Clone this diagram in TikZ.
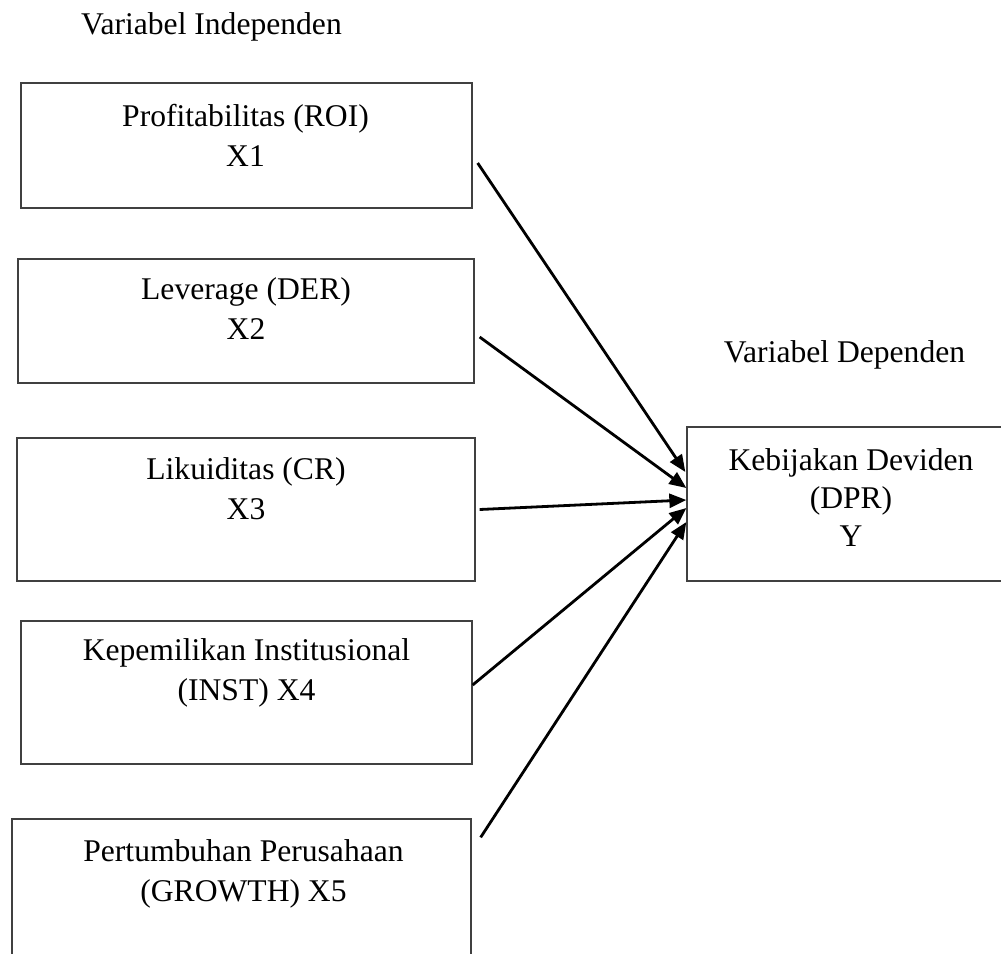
\documentclass[tikz,border=0pt]{standalone}
\usepackage{fontspec}
\setmainfont{Liberation Serif}
\usetikzlibrary{arrows.meta}
\tikzset{
  varbox/.style={draw=black!75, line width=0.65pt, inner sep=0pt},
  vartext/.style={align=center, font=\fontsize{15.8}{20}\selectfont},
  arr/.style={line width=1.4pt, -{Triangle[length=8.5pt,width=7pt]}}
}
\begin{document}
\begin{tikzpicture}[x=0.5pt,y=-0.5pt]
    \useasboundingbox (0,0) rectangle (1001,953);
    % headings
    \node[vartext] (indep) at (211.5,27) {Variabel Independen};
    \node[vartext] (dep) at (844.5,355) {Variabel Dependen};
    % independent variables
    \node[varbox, minimum width=225.5pt, minimum height=62.5pt] (x1) at (246.5,145.5) {};
    \node[varbox, minimum width=228pt, minimum height=62pt] (x2) at (246,321) {};
    \node[varbox, minimum width=229pt, minimum height=71.5pt] (x3) at (246,509.5) {};
    \node[varbox, minimum width=225.5pt, minimum height=71.5pt] (x4) at (246.5,692.5) {};
    \node[varbox, minimum width=229.5pt, minimum height=75.5pt] (x5) at (241.5,894.5) {};
    \node[vartext] (t1) at (245.5,135) {Profitabilitas (ROI)\\X1};
    \node[vartext] (t2) at (246,309) {Leverage (DER)\\X2};
    \node[vartext] (t3) at (246,489) {Likuiditas (CR)\\X3};
    \node[vartext] (t4) at (246.5,673) {Kepemilikan Institusional\\(INST) X4};
    \node[vartext] (t5) at (243.5,874) {Pertumbuhan Perusahaan\\(GROWTH) X5};
    % dependent variable
    \node[varbox, minimum width=161.5pt, minimum height=77pt] (y) at (848.5,504) {};
    \node[vartext, font=\fontsize{15.8}{19}\selectfont] (ty) at (851,498) {Kebijakan Deviden\\(DPR)\\Y};
    % arrows
    \draw[arr] ([shift={(5,17.5)}]x1.east) -- ([shift={(-1,-32)}]y.west);
    \draw[arr] ([shift={(5,16)}]x2.east) -- ([shift={(0,-16)}]y.west);
    \draw[arr] ([shift={(4,0)}]x3.east) -- ([shift={(0,-4)}]y.west);
    \draw[arr] ([shift={(0,-7.5)}]x4.east) -- ([shift={(0,4)}]y.west);
    \draw[arr] ([shift={(9,19)}]x5.north east) -- ([shift={(0,18)}]y.west);
\end{tikzpicture}
\end{document}
